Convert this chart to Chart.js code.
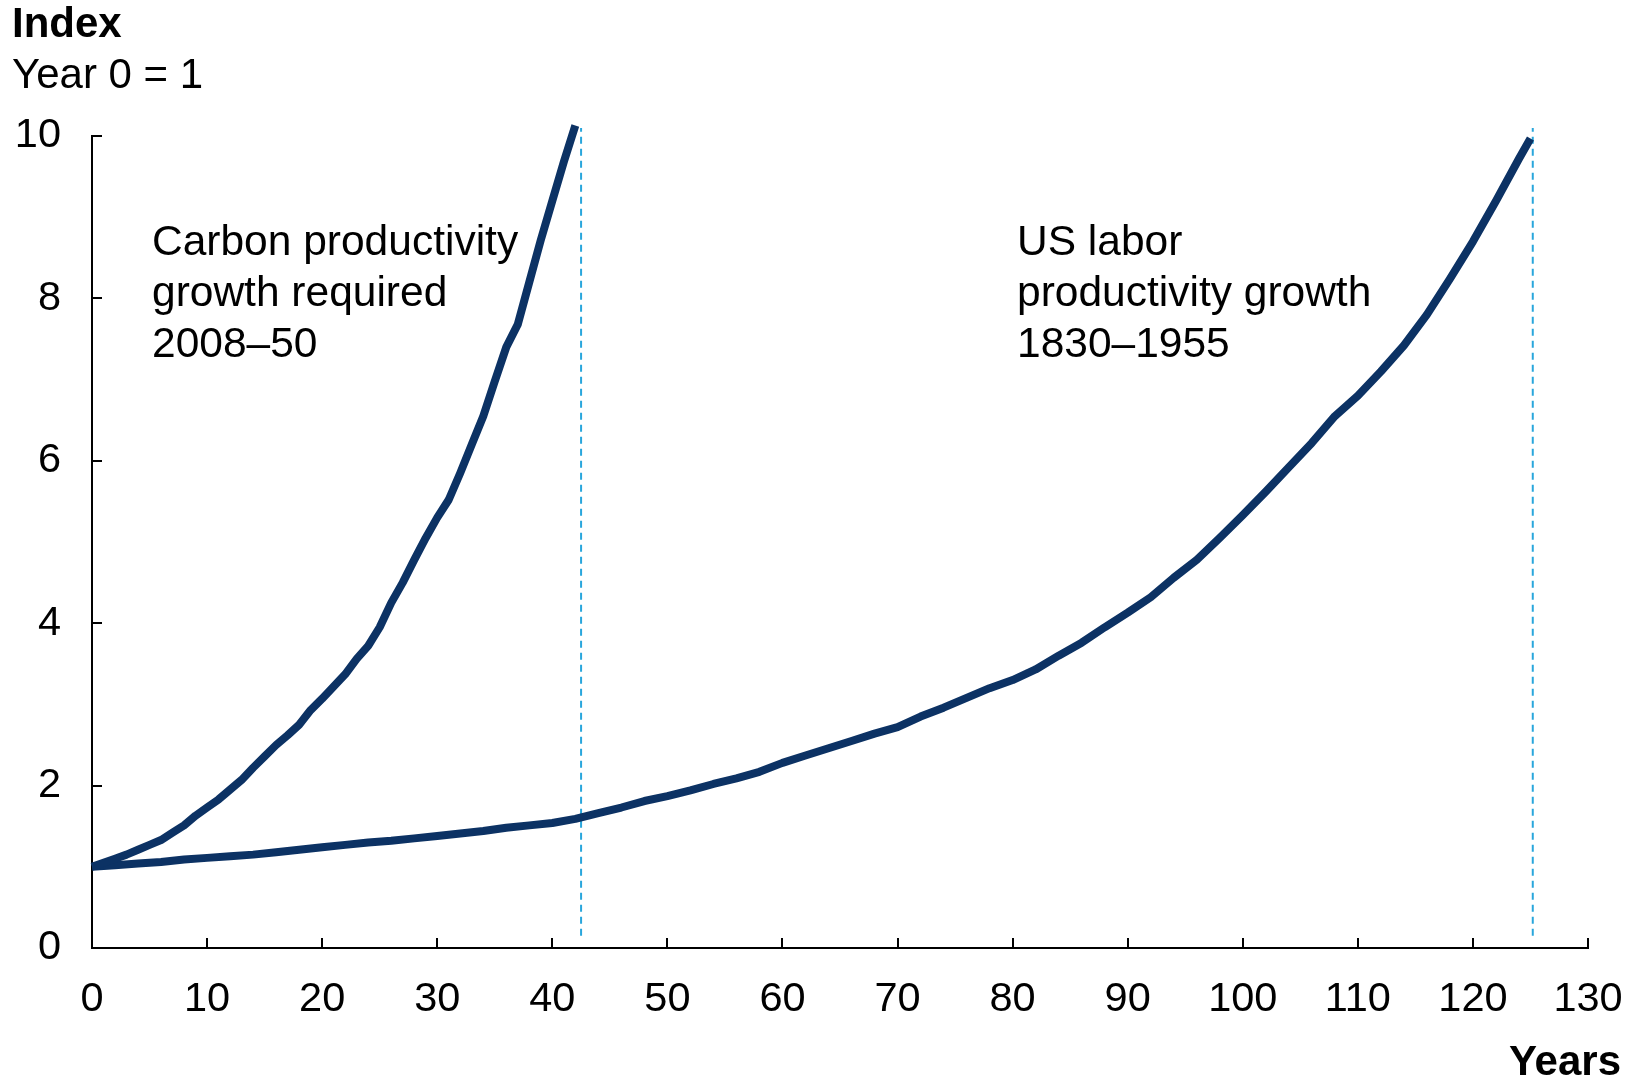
<!DOCTYPE html>
<html>
<head>
<meta charset="utf-8">
<script src="https://cdn.jsdelivr.net/npm/chart.js@4/dist/chart.umd.min.js"></script>
<style>
  html, body { margin: 0; padding: 0; background: #fff; }
  #wrap { width: 1638px; height: 1089px; position: relative; }
</style>
</head>
<body>
<div id="wrap"><canvas id="c" width="1638" height="1089"></canvas></div>
<script>
// ---- data ----
const carbonYears = [0,1,2,3,4,5,6,7,8,9,10,11,12,13,14,15,16,17,18,19,20,21,22,23,24,25,26,27,28,29,30,31,32,33,34,35,36,37,38,39,40,41,42];
const carbonValues = [1.00,1.05,1.10,1.15,1.21,1.27,1.33,1.42,1.51,1.63,1.73,1.83,1.95,2.07,2.22,2.36,2.50,2.62,2.75,2.93,3.07,3.22,3.37,3.56,3.72,3.95,4.25,4.50,4.78,5.05,5.30,5.52,5.85,6.20,6.55,6.98,7.40,7.68,8.20,8.72,9.20,9.68,10.13];

const usYears = [0,2,4,6,8,10,12,14,16,18,20,22,24,26,28,30,32,34,36,38,40,42,44,46,48,50,52,54,56,58,60,62,64,66,68,70,72,74,76,78,80,82,84,86,88,90,92,94,96,98,100,102,104,106,108,110,112,114,116,118,120,122,124,125];
const usValues = [1.00,1.02,1.04,1.06,1.09,1.11,1.13,1.15,1.18,1.21,1.24,1.27,1.30,1.32,1.35,1.38,1.41,1.44,1.48,1.51,1.54,1.59,1.66,1.73,1.81,1.87,1.94,2.02,2.09,2.17,2.28,2.37,2.46,2.55,2.64,2.72,2.85,2.96,3.08,3.20,3.30,3.43,3.60,3.76,3.95,4.13,4.32,4.56,4.78,5.05,5.33,5.62,5.92,6.22,6.55,6.80,7.10,7.42,7.80,8.24,8.70,9.20,9.72,9.97];

const markerYears = [42.5, 125.2];
const markerRange = [0.15, 10.1];

const xTicks = [0,10,20,30,40,50,60,70,80,90,100,110,120,130];
const yTicks = [0,2,4,6,8,10];

const yTitleLines = ['Index', 'Year 0 = 1'];
const xTitle = 'Years';
const carbonLabel = ['Carbon productivity', 'growth required', '2008\u201350'];
const usLabel = ['US labor', 'productivity growth', '1830\u20131955'];

// ---- build ----
const FONT = '"Liberation Sans", Arial, Helvetica, sans-serif';
const NAVY = '#0c3264';
const CYAN = '#29a6dc';

function pts(xs, ys) { return xs.map((x, i) => ({ x: x, y: ys[i] })); }

const datasets = [
  { data: pts(carbonYears, carbonValues), borderColor: NAVY, borderWidth: 8, pointRadius: 0, tension: 0, clip: false, borderJoinStyle: 'round' },
  { data: pts(usYears, usValues), borderColor: NAVY, borderWidth: 8, pointRadius: 0, tension: 0, clip: false, borderJoinStyle: 'round' }
];
markerYears.forEach(m => {
  datasets.push({ data: pts([m, m], markerRange), borderColor: CYAN, borderWidth: 2, borderDash: [7, 5], pointRadius: 0, clip: false });
});

const innerTicks = {
  id: 'innerTicks',
  afterDraw(chart) {
    const ctx = chart.ctx, xs = chart.scales.x, ys = chart.scales.y;
    const a = chart.chartArea;
    ctx.save();
    ctx.strokeStyle = '#000';
    ctx.lineWidth = 2;
    xTicks.forEach(t => {
      if (t === 0) return;
      const px = Math.round(xs.getPixelForValue(t));
      ctx.beginPath(); ctx.moveTo(px, a.bottom); ctx.lineTo(px, a.bottom - 10); ctx.stroke();
    });
    yTicks.forEach(t => {
      if (t === 0) return;
      const py = Math.round(ys.getPixelForValue(t));
      ctx.beginPath(); ctx.moveTo(a.left, py); ctx.lineTo(a.left + 10, py); ctx.stroke();
    });
    // texts
    ctx.fillStyle = '#000';
    ctx.textBaseline = 'alphabetic';
    ctx.textAlign = 'left';
    ctx.font = 'bold 42px ' + FONT;
    ctx.fillText(yTitleLines[0], 12, 37);
    ctx.font = '42px ' + FONT;
    ctx.fillText(yTitleLines[1], 12, 88);
    ctx.textAlign = 'right';
    ctx.font = 'bold 42px ' + FONT;
    ctx.fillText(xTitle, 1621, 1075);
    ctx.textAlign = 'left';
    ctx.font = '42.5px ' + FONT;
    carbonLabel.forEach((s, i) => ctx.fillText(s, 152, 255 + i * 51));
    usLabel.forEach((s, i) => ctx.fillText(s, 1017, 255 + i * 51));
    ctx.restore();
  }
};

new Chart(document.getElementById('c'), {
  type: 'line',
  data: { datasets: datasets },
  options: {
    responsive: false,
    animation: false,
    events: [],
    layout: { padding: { top: 136, right: 50, left: 0, bottom: 0 } },
    plugins: { legend: { display: false }, tooltip: { enabled: false } },
    scales: {
      x: {
        type: 'linear', min: 0, max: 130,
        afterBuildTicks: s => { s.ticks = xTicks.map(v => ({ value: v })); },
        afterFit: s => { s.height = 141; s.paddingLeft = 0; s.paddingRight = 0; },
        grid: { display: false, drawTicks: false },
        border: { display: true, color: '#000', width: 2 },
        ticks: { color: '#000', font: { family: FONT, size: 41.5 }, padding: 27, maxRotation: 0, autoSkip: false }
      },
      y: {
        type: 'linear', min: 0, max: 10,
        afterBuildTicks: s => { s.ticks = yTicks.map(v => ({ value: v })); },
        afterFit: s => { s.width = 92; s.paddingTop = 0; s.paddingBottom = 0; },
        grid: { display: false, drawTicks: false },
        border: { display: true, color: '#000', width: 2 },
        ticks: { color: '#000', font: { family: FONT, size: 41.5 }, padding: 31 }
      }
    }
  },
  plugins: [innerTicks]
});
</script>
</body>
</html>
